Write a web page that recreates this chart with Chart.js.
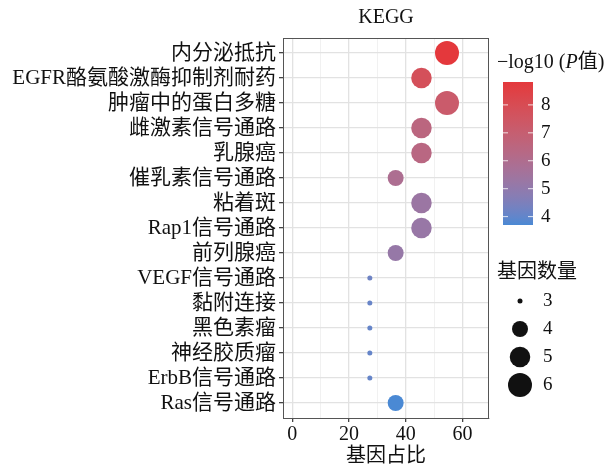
<!DOCTYPE html>
<html>
<head>
<meta charset="utf-8">
<script src="https://cdn.jsdelivr.net/npm/chart.js@4.4.0/dist/chart.umd.min.js"></script>
<style>
  html, body { margin: 0; padding: 0; background: #fff; }
  #wrap { width: 611px; height: 472px; }
</style>
</head>
<body>
<div id="wrap"><canvas id="myChart" width="611" height="472"></canvas></div>
<script>
// pathway names, top to bottom
var pathways = ['内分泌抵抗', 'EGFR酪氨酸激酶抑制剂耐药', '肿瘤中的蛋白多糖', '雌激素信号通路', '乳腺癌',
  '催乳素信号通路', '粘着斑', 'Rap1信号通路', '前列腺癌', 'VEGF信号通路', '黏附连接', '黑色素瘤',
  '神经胶质瘤', 'ErbB信号通路', 'Ras信号通路'];
// gene ratio (%)
var geneRatio = [54.5, 45.5, 54.5, 45.5, 45.5, 36.4, 45.5, 45.5, 36.4, 27.3, 27.3, 27.3, 27.3, 27.3, 36.4];
// gene count
var geneCount = [6, 5, 6, 5, 5, 4, 5, 5, 4, 3, 3, 3, 3, 3, 4];
// -log10(P)
var logP = [8.82, 7.8, 7.2, 6.5, 6.4, 5.9, 5.3, 5.2, 5.15, 4.2, 4.1, 4.05, 4.05, 4.05, 3.7];

var xTicks = [0, 10, 20, 30, 40, 50, 60];
var colorTicks = [4, 5, 6, 7, 8];
var sizeTicks = [3, 4, 5, 6];

var serif = '"Liberation Serif", "Noto Sans CJK SC", serif';
var cMin = 3.7, cMax = 8.82;
var lowC = [74, 137, 212], highC = [228, 56, 60];

// sRGB <-> Lab so the gradient blends like ggplot's
function toLin(c) { c /= 255; return c <= 0.04045 ? c / 12.92 : Math.pow((c + 0.055) / 1.055, 2.4); }
function fromLin(c) { c = c <= 0.0031308 ? 12.92 * c : 1.055 * Math.pow(c, 1 / 2.4) - 0.055; return Math.max(0, Math.min(255, Math.round(c * 255))); }
function f(t) { return t > 0.008856 ? Math.cbrt(t) : 7.787 * t + 16 / 116; }
function fi(t) { return t > 0.206893 ? t * t * t : (t - 16 / 116) / 7.787; }
function rgb2lab(c) {
  var r = toLin(c[0]), g = toLin(c[1]), b = toLin(c[2]);
  var X = (0.4124 * r + 0.3576 * g + 0.1805 * b) / 0.95047;
  var Y = 0.2126 * r + 0.7152 * g + 0.0722 * b;
  var Z = (0.0193 * r + 0.1192 * g + 0.9505 * b) / 1.08883;
  return [116 * f(Y) - 16, 500 * (f(X) - f(Y)), 200 * (f(Y) - f(Z))];
}
function lab2rgb(l) {
  var fy = (l[0] + 16) / 116, fx = fy + l[1] / 500, fz = fy - l[2] / 200;
  var X = fi(fx) * 0.95047, Y = fi(fy), Z = fi(fz) * 1.08883;
  var r = 3.2406 * X - 1.5372 * Y - 0.4986 * Z;
  var g = -0.9689 * X + 1.8758 * Y + 0.0415 * Z;
  var b = 0.0557 * X - 0.2040 * Y + 1.0570 * Z;
  return [fromLin(r), fromLin(g), fromLin(b)];
}
var lowLab = rgb2lab(lowC), highLab = rgb2lab(highC);

function colorFor(v) {
  var t = Math.max(0, Math.min(1, (v - cMin) / (cMax - cMin)));
  var l = [0, 1, 2].map(function (i) { return lowLab[i] + (highLab[i] - lowLab[i]) * t; });
  return 'rgb(' + lab2rgb(l).join(',') + ')';
}
// ggplot-like area scale for bubble radius
function radiusFor(n) {
  return 2 * (1.25 + 4.75 * Math.sqrt((n - 3) / 3));
}

var points = pathways.map(function (p, i) {
  return { x: geneRatio[i], y: i, r: radiusFor(geneCount[i]) };
});

var extras = {
  id: 'extras',
  beforeDatasetsDraw: function (chart) {
    var a = chart.chartArea, c = chart.ctx;
    c.save();
    c.strokeStyle = '#555';
    c.lineWidth = 1;
    c.strokeRect(a.left + 0.5, a.top + 0.5, a.right - a.left - 1, a.bottom - a.top);
    c.restore();
  },
  afterDraw: function (chart) {
    var a = chart.chartArea, c = chart.ctx;
    c.save();
    c.fillStyle = '#111';
    // title
    c.font = '20px ' + serif;
    c.textAlign = 'center';
    c.textBaseline = 'middle';
    c.fillText('KEGG', (a.left + a.right) / 2, 18);

    // colour legend
    c.textAlign = 'left';
    c.font = '20px ' + serif;
    var tx = 497, ty = 63;
    c.fillText('\u2212log10 (', tx, ty);
    tx += c.measureText('\u2212log10 (').width;
    c.font = 'italic 20px ' + serif;
    c.fillText('P', tx, ty);
    tx += c.measureText('P').width;
    c.font = '20px ' + serif;
    c.fillText('值)', tx, ty);

    var bx = 503, bw = 30, top = 82, bot = 225;
    var g = c.createLinearGradient(0, top, 0, bot);
    for (var k = 0; k <= 20; k++) {
      g.addColorStop(k / 20, colorFor(cMax - (cMax - cMin) * k / 20));
    }
    c.fillStyle = g;
    c.fillRect(bx, top, bw, bot - top);
    c.font = '19px ' + serif;
    colorTicks.forEach(function (v) {
      var y = bot - (v - cMin) / (cMax - cMin) * (bot - top);
      c.strokeStyle = 'rgba(255,255,255,0.8)';
      c.lineWidth = 1;
      c.beginPath();
      c.moveTo(bx, y); c.lineTo(bx + 5, y);
      c.moveTo(bx + bw - 5, y); c.lineTo(bx + bw, y);
      c.stroke();
      c.fillStyle = '#111';
      c.fillText(String(v), 541, y);
    });

    // size legend
    c.font = '20px ' + serif;
    c.fillText('基因数量', 497, 273);
    sizeTicks.forEach(function (n, i) {
      var y = 301 + i * 28;
      c.fillStyle = '#111';
      c.beginPath();
      c.arc(520, y, radiusFor(n), 0, Math.PI * 2);
      c.fill();
      c.font = '19px ' + serif;
      c.fillText(String(n), 543, y);
    });
    c.restore();
  }
};

var ctx = document.getElementById('myChart').getContext('2d');
var chart = new Chart(ctx, {
  type: 'bubble',
  data: {
    datasets: [{
      data: points,
      backgroundColor: logP.map(colorFor),
      borderWidth: 0,
      hoverRadius: 0
    }]
  },
  options: {
    responsive: false,
    animation: false,
    events: [],
    layout: { padding: { top: 38, right: 122, left: 0, bottom: 3 } },
    plugins: { legend: { display: false }, tooltip: { enabled: false } },
    scales: {
      x: {
        type: 'linear',
        min: -3.3,
        max: 69.3,
        afterBuildTicks: function (s) { s.ticks = xTicks.map(function (v) { return { value: v }; }); },
        afterFit: function (s) { s.height = 51; },
        ticks: {
          autoSkip: false,
          maxRotation: 0,
          padding: 1,
          color: '#111',
          font: { family: serif, size: 20 },
          callback: function (v) { return v % 20 === 0 ? String(v) : ''; }
        },
        grid: {
          color: function (c) { return c.tick && c.tick.value % 20 === 0 ? '#e2e2e2' : '#eeeeee'; },
          lineWidth: function (c) { return c.tick && c.tick.value % 20 === 0 ? 1.3 : 0.8; },
          tickColor: function (c) { return c.tick && c.tick.value % 20 === 0 ? '#444' : 'rgba(0,0,0,0)'; },
          tickLength: 4
        },
        border: { color: '#555' },
        title: {
          display: true,
          text: '基因占比',
          color: '#111',
          font: { family: serif, size: 20 },
          padding: { top: 0, bottom: 0 }
        }
      },
      y: {
        type: 'linear',
        reverse: true,
        min: -0.6,
        max: 14.6,
        afterBuildTicks: function (s) { s.ticks = pathways.map(function (p, i) { return { value: i }; }); },
        afterFit: function (s) { s.width = 283; },
        ticks: {
          autoSkip: false,
          padding: 3,
          color: '#111',
          font: { family: serif, size: 21 },
          callback: function (v) { return pathways[v]; }
        },
        grid: { color: '#e2e2e2', lineWidth: 1.3, tickColor: '#444', tickLength: 4 },
        border: { color: '#555' }
      }
    }
  },
  plugins: [extras]
});
</script>
</body>
</html>
